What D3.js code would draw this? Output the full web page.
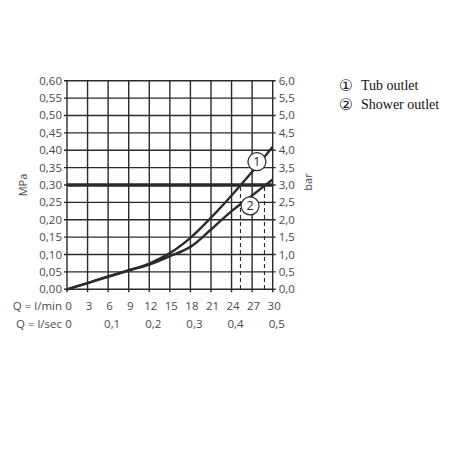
<!DOCTYPE html>
<html>
<head>
<meta charset="utf-8">
<script src="https://cdn.jsdelivr.net/npm/d3@7"></script>
<style>
  body { margin: 0; background: #fff; }
</style>
</head>
<body>
<div id="chart"></div>
<script>
(function () {

  // flow in l/min, pressure in MPa
  const flowLmin = [0, 3, 6, 9, 12, 15, 18, 21, 24, 27, 30]
  const tubMPa = [0, 0.018, 0.037, 0.055, 0.074, 0.104, 0.148, 0.206, 0.270, 0.338, 0.410]
  const showerMPa = [0, 0.018, 0.036, 0.054, 0.071, 0.095, 0.122, 0.172, 0.225, 0.270, 0.316]

  const mpaTicks = [0, 0.05, 0.10, 0.15, 0.20, 0.25, 0.30, 0.35, 0.40, 0.45, 0.50, 0.55, 0.60]
  const barTicks = [0, 0.5, 1.0, 1.5, 2.0, 2.5, 3.0, 3.5, 4.0, 4.5, 5.0, 5.5, 6.0]
  const secTicks = [0, 0.1, 0.2, 0.3, 0.4, 0.5]

  const refPressure = 0.30
  const tubAtRef = 25.3
  const showerAtRef = 28.8

  const legendNums = ['①', '②']
  const legendNames = ['Tub outlet', 'Shower outlet']

  const width = 450
  const height = 450

  const svg = d3.select("#chart").append("svg")
      .attr("width", width)
      .attr("height", height)

  const xPositionScale = d3.scaleLinear()
    .domain([0, 30])
    .range([67, 272.7])

  const yPositionScale = d3.scaleLinear()
    .domain([0, 0.6])
    .range([289.3, 80.7])

  // bar axis on the right, 1 MPa = 10 bar
  const yBarScale = d3.scaleLinear()
    .domain([0, 6])
    .range([289.3, 80.7])

  const fmt = d3.format(',.2f')
  const comma = s => s.replace('.', ',')
  const ink = '#2a2a2a'
  const textFont = 'Open Sans'
  const textColor = '#4a4a4a'

  // grid
  svg.append('g')
    .selectAll('line')
    .data(mpaTicks)
    .join('line')
    .attr('x1', xPositionScale(0) - 3)
    .attr('x2', xPositionScale(30) + 3)
    .attr('y1', d => yPositionScale(d))
    .attr('y2', d => yPositionScale(d))
    .attr('stroke', ink)
    .attr('stroke-width', 1.4)

  svg.append('g')
    .selectAll('line')
    .data(flowLmin)
    .join('line')
    .attr('x1', d => xPositionScale(d))
    .attr('x2', d => xPositionScale(d))
    .attr('y1', yPositionScale(0.6))
    .attr('y2', yPositionScale(0) + 3)
    .attr('stroke', ink)
    .attr('stroke-width', 1.4)

  // thick reference line at 0,30 MPa
  svg.append('line')
    .attr('x1', xPositionScale(0))
    .attr('x2', xPositionScale(30))
    .attr('y1', yPositionScale(refPressure))
    .attr('y2', yPositionScale(refPressure))
    .attr('stroke', ink)
    .attr('stroke-width', 3.6)

  // dashed drop lines
  svg.append('g')
    .selectAll('line')
    .data([tubAtRef, showerAtRef])
    .join('line')
    .attr('x1', d => xPositionScale(d))
    .attr('x2', d => xPositionScale(d))
    .attr('y1', yPositionScale(refPressure) + 2)
    .attr('y2', yPositionScale(0))
    .attr('stroke', ink)
    .attr('stroke-width', 1.1)
    .attr('stroke-dasharray', '4,3')

  // curves
  const line = d3.line()
    .x(d => xPositionScale(d[0]))
    .y(d => yPositionScale(d[1]))
    .curve(d3.curveCatmullRom.alpha(0.5))

  const series = [tubMPa, showerMPa]
  svg.append('g')
    .selectAll('path')
    .data(series)
    .join('path')
    .attr('d', s => line(flowLmin.map((q, i) => [q, s[i]])))
    .attr('fill', 'none')
    .attr('stroke', ink)
    .attr('stroke-width', 2.4)

  // numbered circles on the curves
  const markers = [
    { label: '1', q: 27.7, p: 0.367 },
    { label: '2', q: 26.7, p: 0.240 }
  ]
  const marker = svg.append('g')
    .selectAll('g')
    .data(markers)
    .join('g')
    .attr('transform', d => `translate(${xPositionScale(d.q)},${yPositionScale(d.p)})`)
  marker.append('circle')
    .attr('r', 9)
    .attr('fill', '#fff')
    .attr('stroke', ink)
    .attr('stroke-width', 1.2)
  marker.append('text')
    .text(d => d.label)
    .attr('text-anchor', 'middle')
    .attr('dy', '0.36em')
    .attr('font-size', 12.5)
    .attr('font-family', textFont)
    .attr('fill', ink)

  // left MPa labels
  svg.append('g')
    .selectAll('text')
    .data(mpaTicks)
    .join('text')
    .attr('x', xPositionScale(0) - 5)
    .attr('y', d => yPositionScale(d))
    .attr('dy', '0.35em')
    .attr('text-anchor', 'end')
    .text(d => comma(fmt(d)))
    .attr('font-size', 11.5)
    .attr('font-family', textFont)
    .attr('fill', textColor)

  // right bar labels
  svg.append('g')
    .selectAll('text')
    .data(barTicks)
    .join('text')
    .attr('x', xPositionScale(30) + 6)
    .attr('y', d => yBarScale(d))
    .attr('dy', '0.35em')
    .text(d => comma(d.toFixed(1)))
    .attr('font-size', 11.5)
    .attr('font-family', textFont)
    .attr('fill', textColor)

  svg.append('text')
    .attr('transform', 'translate(27,185) rotate(-90)')
    .attr('text-anchor', 'middle')
    .text('MPa')
    .attr('font-size', 11)
    .attr('font-family', textFont)
    .attr('fill', textColor)

  svg.append('text')
    .attr('transform', 'translate(312,182) rotate(-90)')
    .attr('text-anchor', 'middle')
    .text('bar')
    .attr('font-size', 11)
    .attr('font-family', textFont)
    .attr('fill', textColor)

  // bottom rows
  const rowMin = 306
  const rowSec = 324

  svg.append('text')
    .attr('x', 62)
    .attr('y', rowMin)
    .attr('dy', '0.35em')
    .attr('text-anchor', 'end')
    .text('Q = l/min')
    .attr('font-size', 11.5)
    .attr('font-family', textFont)
    .attr('fill', textColor)

  svg.append('g')
    .selectAll('text')
    .data(flowLmin)
    .join('text')
    .attr('x', d => xPositionScale(d) + 1.5)
    .attr('y', rowMin)
    .attr('dy', '0.35em')
    .attr('text-anchor', 'middle')
    .text(d => d)
    .attr('font-size', 11.5)
    .attr('font-family', textFont)
    .attr('fill', textColor)

  svg.append('text')
    .attr('x', 62)
    .attr('y', rowSec)
    .attr('dy', '0.35em')
    .attr('text-anchor', 'end')
    .text('Q = l/sec')
    .attr('font-size', 11.5)
    .attr('font-family', textFont)
    .attr('fill', textColor)

  svg.append('g')
    .selectAll('text')
    .data(secTicks)
    .join('text')
    .attr('x', d => xPositionScale(d * 60) + (d === 0 ? 1.5 : 4))
    .attr('y', rowSec)
    .attr('dy', '0.35em')
    .attr('text-anchor', 'middle')
    .text(d => d === 0 ? '0' : comma(d.toFixed(1)))
    .attr('font-size', 11.5)
    .attr('font-family', textFont)
    .attr('fill', textColor)

  // legend
  const legend = svg.append('g')

  legend.selectAll('.num')
    .data(legendNums)
    .join('text')
    .attr('class', 'num')
    .attr('x', 346)
    .attr('y', (d, i) => 85 + i * 19.5)
    .attr('dy', '0.36em')
    .attr('text-anchor', 'middle')
    .text(d => d)
    .attr('font-size', 16)
    .attr('font-family', 'DejaVu Sans')
    .attr('fill', '#222')

  legend.selectAll('.name')
    .data(legendNames)
    .join('text')
    .attr('class', 'name')
    .attr('x', 361)
    .attr('y', (d, i) => 85 + i * 19.5)
    .attr('dy', '0.35em')
    .text(d => d)
    .attr('font-size', 14)
    .attr('font-family', 'Liberation Serif')
    .attr('fill', '#111')

})();
</script>
</body>
</html>
